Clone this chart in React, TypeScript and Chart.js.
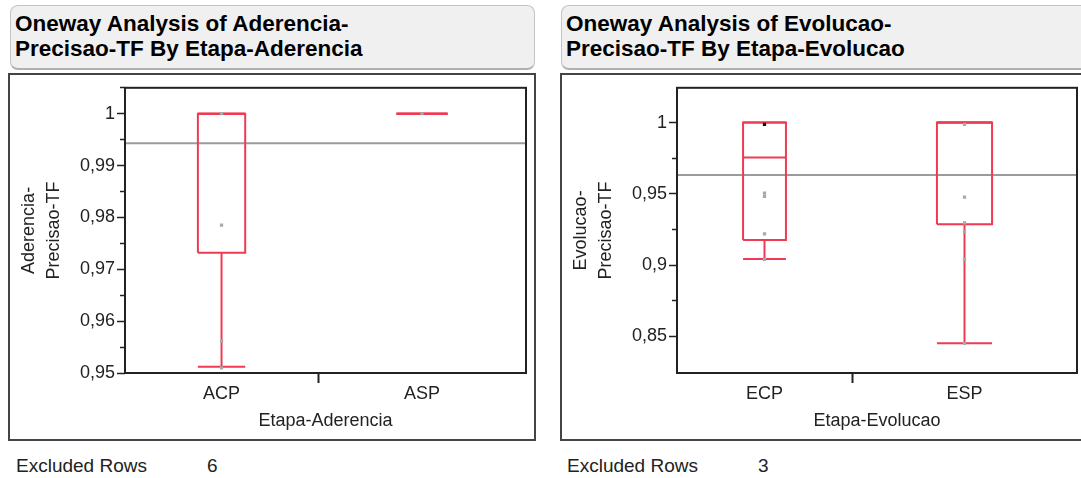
import React, { useEffect, useRef } from 'react';
import { Chart, registerables } from 'chart.js';

Chart.register(...registerables);

// ---------- Left panel data: Aderencia-Precisao-TF by Etapa-Aderencia ----------
const categoriesA = ['ACP', 'ASP'];
const countsA = [13, 14];
const q1A = [0.9732, 1.0];
const medianA = [1.0, 1.0];
const q3A = [1.0, 1.0];
const whiskerLowA = [0.9512, 1.0];
const whiskerHighA = [1.0, 1.0];
const pointsACP = [1.0, 0.9785, 0.9562, 0.951];
const pointsASP = [1.0];
const selectedA = [[], []];
const grandMeanA = 0.9943;
const yTicksA = [0.95, 0.96, 0.97, 0.98, 0.99, 1];
const yTickLabelsA = ['0,95', '0,96', '0,97', '0,98', '0,99', '1'];
const yMinorA = [0.955, 0.965, 0.975, 0.985, 0.995, 1.005];
const yRangeA = [0.95, 1.005];
const titleA = ['Oneway Analysis of Aderencia-', 'Precisao-TF By Etapa-Aderencia'];
const yTitleA = ['Aderencia-', 'Precisao-TF'];
const xTitleA = 'Etapa-Aderencia';
const excludedA = 6;

// ---------- Right panel data: Evolucao-Precisao-TF by Etapa-Evolucao ----------
const categoriesB = ['ECP', 'ESP'];
const countsB = [7, 9];
const q1B = [0.9177, 0.9288];
const medianB = [0.9756, 1.0];
const q3B = [1.0, 1.0];
const whiskerLowB = [0.9044, 0.8453];
const whiskerHighB = [1.0, 1.0];
const pointsECP = [0.9988, 0.9505, 0.9482, 0.9219, 0.904];
const pointsESP = [0.9988, 0.9477, 0.9297, 0.9237, 0.904, 0.8451];
const selectedB = [[0], []];
const grandMeanB = 0.9632;
const yTicksB = [0.85, 0.9, 0.95, 1];
const yTickLabelsB = ['0,85', '0,9', '0,95', '1'];
const yMinorB = [0.875, 0.925, 0.975];
const yRangeB = [0.8244, 1.0244];
const titleB = ['Oneway Analysis of Evolucao-', 'Precisao-TF By Etapa-Evolucao'];
const yTitleB = ['Evolucao-', 'Precisao-TF'];
const xTitleB = 'Etapa-Evolucao';
const excludedB = 3;

const FONT = "'Liberation Sans', Arial, Helvetica, sans-serif";
const RED = '#ef3a52';
const INK = '#222222';

type Group = {
  categories: string[];
  counts: number[];
  q1: number[];
  median: number[];
  q3: number[];
  whiskerLow: number[];
  whiskerHigh: number[];
  points: number[][];
  selected: number[][];
  grandMean: number;
  yTicks: number[];
  yTickLabels: string[];
  yMinor: number[];
  yRange: number[];
  yTitle: string[];
  xTitle: string;
};

const groupA: Group = {
  categories: categoriesA, counts: countsA, q1: q1A, median: medianA, q3: q3A,
  whiskerLow: whiskerLowA, whiskerHigh: whiskerHighA, points: [pointsACP, pointsASP],
  selected: selectedA, grandMean: grandMeanA, yTicks: yTicksA, yTickLabels: yTickLabelsA,
  yMinor: yMinorA, yRange: yRangeA, yTitle: yTitleA, xTitle: xTitleA,
};

const groupB: Group = {
  categories: categoriesB, counts: countsB, q1: q1B, median: medianB, q3: q3B,
  whiskerLow: whiskerLowB, whiskerHigh: whiskerHighB, points: [pointsECP, pointsESP],
  selected: selectedB, grandMean: grandMeanB, yTicks: yTicksB, yTickLabels: yTickLabelsB,
  yMinor: yMinorB, yRange: yRangeB, yTitle: yTitleB, xTitle: xTitleB,
};

const plotBorder = {
  id: 'plotBorder',
  afterDatasetsDraw(chart: any) {
    const { ctx, chartArea } = chart;
    const { left, top, right, bottom } = chartArea;
    ctx.save();
    ctx.strokeStyle = INK;
    ctx.lineWidth = 2;
    ctx.strokeRect(left, top, right - left, bottom - top);
    ctx.restore();
  },
};

function lineDs(data: { x: number; y: number }[], color: string, width: number, order: number) {
  return {
    data,
    showLine: true,
    borderColor: color,
    borderWidth: width,
    pointRadius: 0,
    pointHoverRadius: 0,
    fill: false,
    tension: 0,
    order,
    borderJoinStyle: 'miter',
    borderCapStyle: 'butt',
  };
}

function makeConfig(g: Group, padRight: number): any {
  const total = g.counts.reduce((a, b) => a + b, 0);
  const centers: number[] = [];
  const bounds: number[] = [];
  let cum = 0;
  g.counts.forEach((c, i) => {
    centers.push(cum + c / 2);
    cum += c;
    if (i < g.counts.length - 1) bounds.push(cum);
  });

  const datasets: any[] = [];
  datasets.push(lineDs([{ x: 0, y: g.grandMean }, { x: total, y: g.grandMean }], '#9b9b9b', 2, 3));

  g.categories.forEach((_, i) => {
    const c = centers[i];
    const hw = g.counts[i] * 0.1225;
    datasets.push(lineDs([
      { x: c - hw, y: g.q1[i] },
      { x: c - hw, y: g.q3[i] },
      { x: c + hw, y: g.q3[i] },
      { x: c + hw, y: g.q1[i] },
      { x: c - hw, y: g.q1[i] },
    ], RED, 2, 1));
    datasets.push(lineDs([{ x: c - hw, y: g.median[i] }, { x: c + hw, y: g.median[i] }], RED, 2, 1));
    datasets.push(lineDs([{ x: c, y: g.q1[i] }, { x: c, y: g.whiskerLow[i] }], RED, 2, 1));
    datasets.push(lineDs([{ x: c - hw, y: g.whiskerLow[i] }, { x: c + hw, y: g.whiskerLow[i] }], RED, 2, 1));
    datasets.push(lineDs([{ x: c, y: g.q3[i] }, { x: c, y: g.whiskerHigh[i] }], RED, 2, 1));
    datasets.push(lineDs([{ x: c - hw, y: g.whiskerHigh[i] }, { x: c + hw, y: g.whiskerHigh[i] }], RED, 2, 1));
    const sel = g.selected[i];
    datasets.push({
      data: g.points[i].map((y) => ({ x: c, y })),
      showLine: false,
      pointStyle: 'rect',
      pointRadius: 2.3,
      pointHoverRadius: 2.3,
      pointBorderWidth: 0,
      pointBackgroundColor: (ctx: any) => (sel.includes(ctx.dataIndex) ? '#111111' : '#a9a9a9'),
      order: 0,
    });
  });

  return {
    type: 'scatter',
    data: { datasets },
    plugins: [plotBorder],
    options: {
      animation: false,
      responsive: false,
      events: [],
      layout: { padding: { top: 12, right: padRight, left: 0, bottom: 0 } },
      plugins: { legend: { display: false }, tooltip: { enabled: false } },
      scales: {
        x: {
          type: 'linear',
          position: 'bottom',
          min: 0,
          max: total,
          afterBuildTicks: (s: any) => {
            s.ticks = [...centers, ...bounds].sort((a, b) => a - b).map((v) => ({ value: v }));
          },
          ticks: {
            autoSkip: false,
            maxRotation: 0,
            padding: 0,
            color: INK,
            font: { family: FONT, size: 18 },
            callback: (v: number) => {
              const idx = centers.indexOf(v);
              return idx >= 0 ? g.categories[idx] : '';
            },
          },
          grid: {
            drawOnChartArea: false,
            drawTicks: true,
            tickLength: 10,
            tickWidth: 2,
            tickColor: (ctx: any) => (ctx.tick && bounds.includes(ctx.tick.value) ? INK : 'rgba(0,0,0,0)'),
          },
          border: { display: false },
          title: {
            display: true,
            text: g.xTitle,
            color: INK,
            font: { family: FONT, size: 18, lineHeight: 1.2 },
            padding: { top: 0, bottom: 7 },
          },
          afterFit: (s: any) => { s.height = 66; },
        },
        y: {
          type: 'linear',
          position: 'left',
          weight: 1,
          min: g.yRange[0],
          max: g.yRange[1],
          afterBuildTicks: (s: any) => { s.ticks = g.yTicks.map((v) => ({ value: v })); },
          ticks: {
            autoSkip: false,
            color: INK,
            padding: 2,
            font: { family: FONT, size: 18 },
            callback: (v: number) => {
              const idx = g.yTicks.findIndex((t) => Math.abs(t - v) < 1e-9);
              return idx >= 0 ? g.yTickLabels[idx] : '';
            },
          },
          grid: { drawOnChartArea: false, tickLength: 8, tickWidth: 1.5, tickColor: INK },
          border: { display: false },
          title: {
            display: true,
            text: g.yTitle,
            color: INK,
            font: { family: FONT, size: 18, lineHeight: 25 / 18 },
            padding: { top: 7, bottom: 0 },
          },
          afterFit: (s: any) => { s.width = 115; },
        },
        yMinor: {
          type: 'linear',
          position: 'left',
          weight: 0,
          min: g.yRange[0],
          max: g.yRange[1],
          afterBuildTicks: (s: any) => { s.ticks = g.yMinor.map((v) => ({ value: v })); },
          ticks: { display: false },
          grid: { drawOnChartArea: false, tickLength: 5, tickWidth: 1.5, tickColor: INK },
          border: { display: false },
          afterFit: (s: any) => { s.width = 0; },
        },
      },
    },
  };
}

function BoxChart({ g, width, height, padRight }: { g: Group; width: number; height: number; padRight: number }) {
  const ref = useRef<HTMLCanvasElement>(null);
  useEffect(() => {
    if (!ref.current) return;
    const chart = new Chart(ref.current, makeConfig(g, padRight));
    return () => chart.destroy();
  }, [g, padRight]);
  return (
    <canvas ref={ref} width={width} height={height} style={{ display: 'block', width, height }} />
  );
}

function TitleBox({ lines, left, width }: { lines: string[]; left: number; width: number }) {
  return (
    <div
      style={{
        position: 'absolute',
        left,
        top: 5,
        width,
        height: 65,
        boxSizing: 'border-box',
        background: '#f0f0f0',
        border: '1px solid #c4c4c4',
        borderBottom: '2px solid #b0b0b0',
        borderRadius: 8,
        padding: '5px 0 0 4px',
        fontFamily: FONT,
        fontWeight: 'bold',
        fontSize: 22.5,
        lineHeight: '25px',
        color: '#000',
        whiteSpace: 'nowrap',
      }}
    >
      {lines.map((l, i) => (
        <div key={i}>{l}</div>
      ))}
    </div>
  );
}

function Excluded({ left, value }: { left: number; value: number }) {
  const base: React.CSSProperties = {
    position: 'absolute',
    top: 455,
    fontFamily: FONT,
    fontSize: 19,
    lineHeight: '22px',
    color: INK,
    whiteSpace: 'nowrap',
  };
  return (
    <>
      <div style={{ ...base, left }}>Excluded Rows</div>
      <div style={{ ...base, left: left + 191 }}>{value}</div>
    </>
  );
}

export default function App() {
  return (
    <div
      style={{
        position: 'absolute',
        left: 0,
        top: 0,
        width: 1081,
        height: 478,
        overflow: 'hidden',
        background: '#ffffff',
      }}
    >
      <TitleBox lines={titleA} left={10} width={525} />
      <TitleBox lines={titleB} left={561} width={540} />

      <div
        style={{
          position: 'absolute',
          left: 8,
          top: 73,
          width: 528,
          height: 368,
          boxSizing: 'border-box',
          border: '2px solid #444',
        }}
      >
        <BoxChart g={groupA} width={524} height={364} padRight={8} />
      </div>

      <div
        style={{
          position: 'absolute',
          left: 560,
          top: 73,
          width: 523,
          height: 368,
          boxSizing: 'border-box',
          border: '2px solid #444',
        }}
      >
        <BoxChart g={groupB} width={519} height={364} padRight={4} />
      </div>

      <Excluded left={16} value={excludedA} />
      <Excluded left={567} value={excludedB} />
    </div>
  );
}
